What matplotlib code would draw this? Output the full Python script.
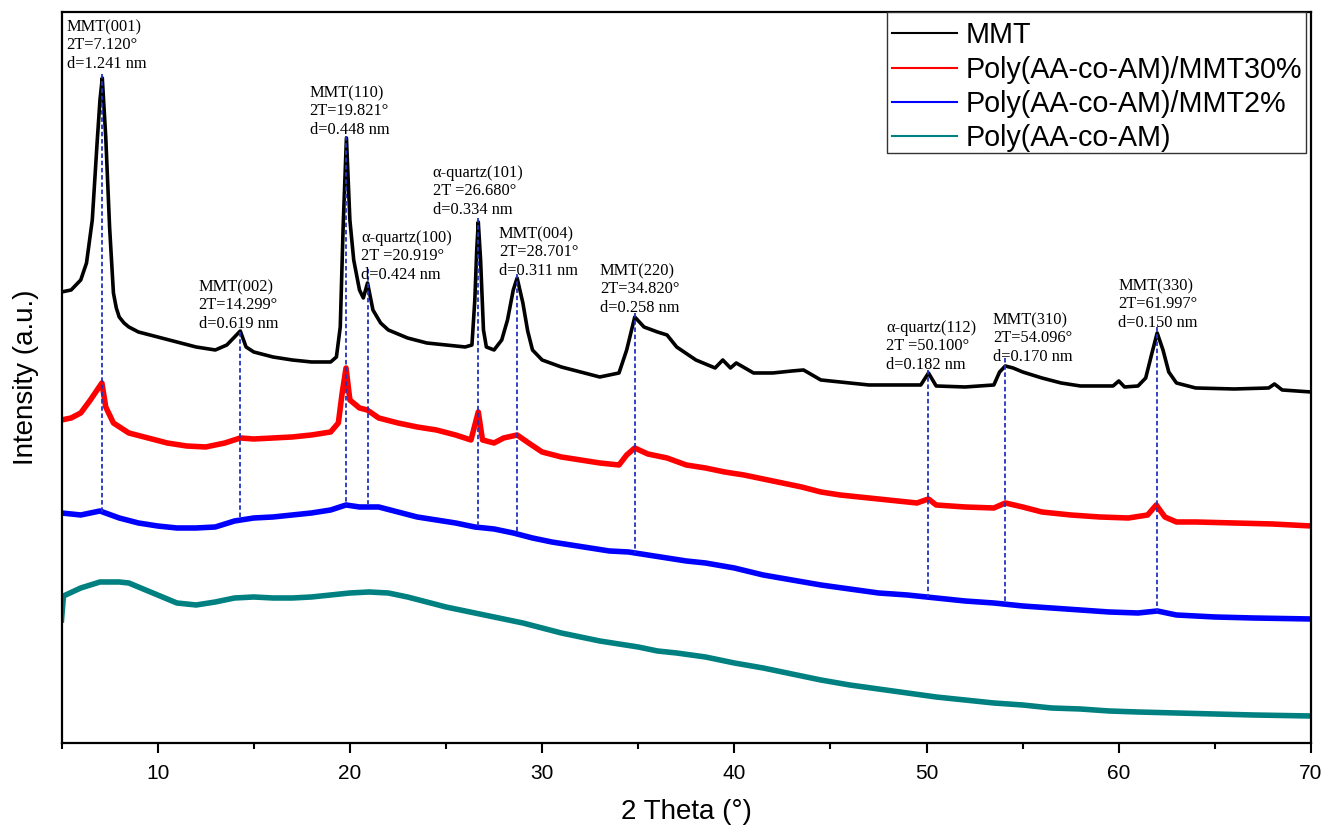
import matplotlib
matplotlib.use("Agg")
import matplotlib.pyplot as plt
from matplotlib.lines import Line2D
from matplotlib.patches import Rectangle
from matplotlib.ticker import MultipleLocator
import numpy as np

# XRD patterns, 2theta (deg) vs intensity (a.u., curves stacked)
mmt_x = [5.0, 5.5, 6.0, 6.3, 6.6, 6.85, 7.0, 7.12, 7.3, 7.5, 7.7, 7.85, 8.0, 8.25, 8.5, 9.0, 10,
         11, 12, 13, 13.6, 14.0, 14.299, 14.6, 15, 16, 17, 18, 19, 19.3, 19.5, 19.65, 19.821,
         20.0, 20.2, 20.5, 20.7, 20.919, 21.2, 21.6, 22, 23, 24, 25, 26, 26.35, 26.5, 26.6,
         26.68, 26.8, 26.95, 27.1, 27.5, 27.9, 28.2, 28.5, 28.701, 29.0, 29.25, 29.5, 30, 31,
         32, 33, 34, 34.4, 34.82, 35.3, 36, 36.5, 37, 38, 39, 39.4, 39.8, 40.1, 41, 42, 43,
         43.6, 44.5, 46, 47, 48, 49.7, 50.1, 50.5, 52, 53.5, 53.8, 54.096, 54.5, 55, 56, 57,
         58, 59.7, 60, 60.3, 61, 61.4, 61.7, 61.997, 62.3, 62.6, 63, 64, 66, 67.8, 68.1, 68.5,
         70]
mmt_y = [451, 453, 463, 480, 523, 600, 643, 665, 606, 516, 450, 435, 426, 420, 416, 411, 406,
         401, 396, 393, 398, 406, 412, 396, 391, 386, 383, 381, 381, 386, 416, 516, 605,
         523, 483, 453, 445, 460, 433, 420, 413, 405, 400, 398, 396, 398, 443, 493,
         521, 483, 413, 396, 393, 403, 423, 453, 465, 440, 412, 393, 383, 376,
         371, 366, 370, 393, 426, 416, 411, 408, 396, 383, 375, 383, 375, 380, 370, 370, 372,
         373, 363, 360, 358, 358, 358, 370, 357, 356, 358, 371, 377, 375, 371, 365, 360,
         357, 357, 362, 356, 357, 365, 388, 410, 393, 371, 360, 355, 354, 355, 359, 353,
         351]

mmt30_x = [5, 5.5, 6, 6.5, 7.1, 7.3, 7.7, 8.5, 9.5, 10.5, 11.5, 12.5, 13.5, 14.3, 15, 16, 17, 18,
           19, 19.4, 19.6, 19.8, 20.0, 20.5, 20.9, 21.5, 22.5, 23.5, 24.5, 25.5, 26.3, 26.68,
           26.9, 27.5, 28, 28.7, 29.3, 30, 31, 32, 33, 34, 34.4, 34.82, 35.5, 36.5, 37.5, 38.5,
           39.5, 40.5, 41.5, 42.5, 43.5, 44.5, 45.5, 46.5, 48, 49.5, 50.1, 50.5, 52, 53.5,
           54.1, 55, 56, 57.5, 59, 60.5, 61.5, 61.95, 62.4, 63, 64, 66, 68, 70]
mmt30_y = [323, 325, 330, 343, 360, 336, 320, 310, 305, 300, 297, 296, 300, 305, 304, 305, 306, 308,
           311, 320, 350, 375, 343, 335, 333, 325, 320, 316, 313, 308, 303, 331,
           303, 300, 305, 308, 300, 291, 286, 283, 280, 278, 288, 295, 289, 285, 278, 275,
           271, 268, 264, 260, 256, 251, 248, 246, 243, 240, 244, 238, 236, 235,
           240, 236, 231, 228, 226, 225, 228, 238, 226, 221, 221, 220, 219, 217]

mmt2_x = [5, 6, 7, 8, 9, 10, 11, 12, 13, 14, 15, 16, 17, 18, 19, 19.8, 20.5, 21.5, 22.5, 23.5,
          24.5, 25.5, 26.5, 27.5, 28.5, 29.5, 30.5, 31.5, 32.5, 33.5, 34.5, 35.5, 36.5, 37.5,
          38.5, 40, 41.5, 43, 44.5, 46, 47.5, 49, 50.5, 52, 53.5, 55, 56.5, 58, 59.5, 61, 62,
          63, 65, 67, 70]
mmt2_y = [230, 228, 232, 225, 220, 217, 215, 215, 216, 222, 225, 226, 228, 230, 233, 238, 236, 236,
          231, 226, 223, 220, 216, 214, 210, 205, 201, 198, 195, 192, 191, 188, 185, 182,
          180, 175, 168, 163, 158, 154, 150, 148, 145, 142, 140, 137, 135, 133, 131, 130, 132,
          128, 126, 125, 124]

poly_x = [5.0, 5.1, 6, 7, 8, 8.5, 9, 10, 11, 12, 13, 14, 15, 16, 17, 18, 19, 20, 21, 22, 23, 24,
          25, 26, 27, 28, 29, 30, 31, 32, 33, 34, 35, 36, 37, 38.5, 40, 41.5, 43, 44.5, 46,
          47.5, 49, 50.5, 52, 53.5, 55, 56.5, 58, 59.5, 61, 63, 65, 67, 70]
poly_y = [123, 147, 155, 161, 161, 160, 156, 148, 140, 138, 141, 145, 146, 145, 145, 146, 148, 150,
          151, 150, 146, 141, 136, 132, 128, 124, 120, 115, 110, 106, 102, 99, 96, 92, 90,
          86, 80, 75, 69, 63, 58, 54, 50, 46, 43, 40, 38, 35, 34, 32, 31, 30, 29, 28, 27]

# indexed reflections
peak_pos = [7.120, 14.299, 19.821, 20.919, 26.680, 28.701, 34.820, 50.100, 54.096, 61.997]
peak_name = ["MMT(001)", "MMT(002)", "MMT(110)", "α-quartz(100)", "α-quartz(101)",
             "MMT(004)", "MMT(220)", "α-quartz(112)", "MMT(310)", "MMT(330)"]
peak_2t = ["2T=7.120°", "2T=14.299°", "2T=19.821°", "2T =20.919°", "2T =26.680°",
           "2T=28.701°", "2T=34.820°", "2T =50.100°", "2T=54.096°", "2T=61.997°"]
peak_d = ["d=1.241 nm", "d=0.619 nm", "d=0.448 nm", "d=0.424 nm", "d=0.334 nm",
          "d=0.311 nm", "d=0.258 nm", "d=0.182 nm", "d=0.170 nm", "d=0.150 nm"]

# where each dashed marker starts and where its label sits
mark_top = [669, 411, 607, 474, 525, 469, 430, 373, 385, 416]
label_xy = [(5.26, 724), (12.13, 464), (17.9, 658), (20.6, 513), (24.3, 578),
            (27.75, 517), (33.0, 480), (47.9, 423), (53.45, 431), (59.96, 465)]

series = [
    ("MMT", mmt_x, mmt_y, "#000000", 2.6),
    ("Poly(AA-co-AM)/MMT30%", mmt30_x, mmt30_y, "#ff0000", 4.0),
    ("Poly(AA-co-AM)/MMT2%", mmt2_x, mmt2_y, "#0000ff", 4.0),
    ("Poly(AA-co-AM)", poly_x, poly_y, "#008080", 4.0),
]

fig = plt.figure(figsize=(13.26, 8.25), dpi=100)
ax = fig.add_axes([0.0464, 0.0994, 0.9423, 0.8861])

for name, xs, ys, col, lw in series:
    ax.plot(xs, ys, color=col, lw=lw)

for i, pos in enumerate(peak_pos):
    bottom = np.interp(pos, mmt2_x, mmt2_y)
    ax.plot([pos, pos], [mark_top[i], bottom], color="#2233c0", lw=1.3,
            ls=(0, (2.5, 1.5)), zorder=3)
    tx, ty = label_xy[i]
    ax.text(tx, ty, peak_name[i] + "\n" + peak_2t[i] + "\n" + peak_d[i],
            family="Liberation Serif", fontsize=11.8, linespacing=1.19,
            ha="left", va="top", zorder=4)

ax.set_xlim(5, 70)
ax.set_ylim(0, 731)
ax.xaxis.set_major_locator(MultipleLocator(10))
ax.xaxis.set_minor_locator(MultipleLocator(5))
ax.set_yticks([])
ax.tick_params(axis="x", which="major", direction="out", length=7, width=1.5,
               labelsize=15, pad=8)
ax.tick_params(axis="x", which="minor", direction="out", length=4, width=1.5)
for lab in ax.get_xticklabels():
    lab.set_family("Liberation Sans")
for sp in ax.spines.values():
    sp.set_linewidth(1.6)

ax.set_xlabel("2 Theta (°)", family="Liberation Sans", fontsize=20, labelpad=12)
ax.set_ylabel("Intensity (a.u.)", family="Liberation Sans", fontsize=20, labelpad=16)

# legend box drawn as its own square frame, entries placed inside it
ax.add_patch(Rectangle((0.6605, 0.8071), 0.3355, 0.1929, transform=ax.transAxes,
                       facecolor="white", edgecolor="#333333", lw=1.0, zorder=4.5))
handles = [Line2D([], [], color=col, lw=1.5) for _, _, _, col, _ in series]
ax.legend(handles, [s[0] for s in series], loc="upper right",
          bbox_to_anchor=(0.996, 0.993), borderaxespad=0,
          prop={"family": "Liberation Sans", "size": 20.7},
          frameon=False, handlelength=2.25, handletextpad=0.3,
          labelspacing=0.22, borderpad=0.15)

fig.savefig("out.png", dpi=100)
